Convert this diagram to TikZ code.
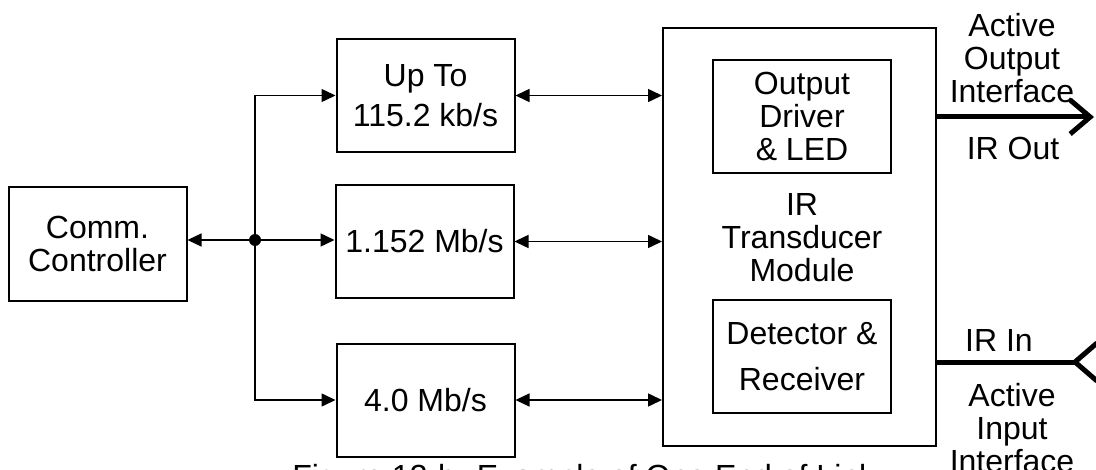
\documentclass[tikz,border=0pt]{standalone}
\usepackage{fontspec}
\setmainfont{Liberation Sans}
\usetikzlibrary{arrows.meta,positioning}
\begin{document}
\begin{tikzpicture}
		[x=0.5pt,y=-0.5pt,
		every node/.style={font=\fontsize{16pt}{16.5pt}\selectfont},
		block/.style={draw,line width=1pt,minimum width=89pt,minimum height=56.5pt,align=center,inner sep=0pt},
		lbl/.style={align=center,inner sep=0pt},
		link/.style={line width=0.75pt},
		tip/.style={-{Triangle[length=7pt,width=6.5pt]}},
		both/.style={{Triangle[length=7pt,width=6.5pt]}-{Triangle[length=7pt,width=6.5pt]}},
		irline/.style={line width=2.5pt}]
		\useasboundingbox (0,0) rectangle (1096,470);
		\clip (0,0) rectangle (1096,470);
		% blocks
		\node[block] (ctrl) at (97.5,244) {Comm.\\Controller};
		\node[block] (up) at (425.5,95.5) {Up To\\[3.5pt]115.2 kb/s};
		\node[block] (mid) at (424.5,241.5) {1.152 Mb/s};
		\node[block] (low) at (425.5,400) {4.0 Mb/s};
		\node[draw,line width=1pt,minimum width=136.5pt,minimum height=209pt] (module) at (799.5,237) {};
		\node[block] (driver) at (802,116.5) {Output\\Driver\\\& LED};
		\node[block] (detect) at (802,356.5) {Detector \&\\[6.5pt]Receiver};
		\node[lbl] (irtm) at (802,238) {IR\\Transducer\\Module};
		% bus
		\coordinate (hub) at (255,240);
		\fill (hub) circle (3pt);
		\draw[link,tip] (hub) -- (ctrl.east |- hub);
		\draw[link,tip] (hub) |- (up.west);
		\draw[link,tip] (hub) -- (mid.west |- hub);
		\draw[link,tip] (hub) |- (low.west);
		\foreach \r in {up,mid,low}
		{
			\draw[link,both] (\r.east) -- (\r.east -| module.west);
		}
		% IR links
		\coordinate (outend) at (1094,117);
		\coordinate (inend) at (1075,362);
		\draw[irline,-{Straight Barb[length=10pt,width=17pt]}] (module.east |- outend) -- (outend);
		\draw[irline] (module.east |- inend) -- (inend);
		\draw[irline] (inend) ++(22,-19) -- (inend) -- ++(22,19);
		\node[lbl,anchor=north] (outlbl) at (1012,13) {Active\\Output\\Interface};
		\node[lbl] (irout) at (1013,148) {IR Out};
		\node[lbl] (irin) at (999,340) {IR In};
		\node[lbl,anchor=north] (inlbl) at (1012,383) {Active\\Input\\Interface};
		\node[lbl,anchor=base west] (caption) at (292,487) {Figure 13-b. Example of One End of Link};
	\end{tikzpicture}
\end{document}
